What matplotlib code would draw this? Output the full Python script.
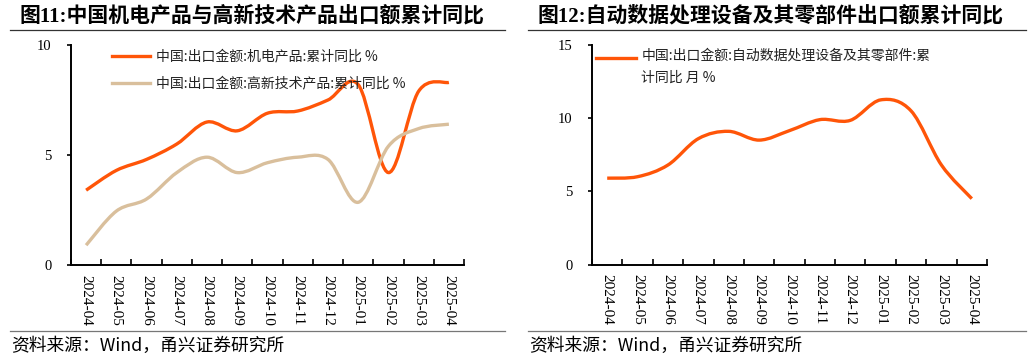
import matplotlib
matplotlib.use("Agg")
import matplotlib.pyplot as plt
import numpy as np
from matplotlib.lines import Line2D
from matplotlib.patches import PathPatch
from matplotlib.path import Path

plt.rcParams["font.family"] = ["Liberation Serif", "Noto Sans CJK SC", "DejaVu Sans"]

MONTHS = ["2024-04", "2024-05", "2024-06", "2024-07", "2024-08", "2024-09", "2024-10",
          "2024-11", "2024-12", "2025-01", "2025-02", "2025-03", "2025-04"]
# 累计同比, %
MECH_ELEC = [3.4, 4.3, 4.8, 5.5, 6.5, 6.1, 6.9, 7.0, 7.5, 8.2, 4.2, 7.9, 8.3]
HIGH_TECH = [0.9, 2.45, 3.0, 4.2, 4.9, 4.2, 4.65, 4.9, 4.8, 2.85, 5.4, 6.2, 6.4]
ADP_EQUIP = [5.9, 6.0, 6.8, 8.6, 9.1, 8.5, 9.15, 9.9, 9.85, 11.25, 10.5, 6.8, 4.5]

LEFT_YTICKS = [0, 5, 10]
RIGHT_YTICKS = [0, 5, 10, 15]

TITLE_L = "图11:中国机电产品与高新技术产品出口额累计同比"
TITLE_R = "图12:自动数据处理设备及其零部件出口额累计同比"
LAB_MECH = "中国:出口金额:机电产品:累计同比 %"
LAB_HIGH = "中国:出口金额:高新技术产品:累计同比 %"
LAB_ADP = "中国:出口金额:自动数据处理设备及其零部件:累\n计同比 月 %"
SOURCE = "资料来源：Wind，甬兴证券研究所"

ORANGE = "#FF5508"
TAN = "#D9BF9C"
CJK = ["Noto Sans CJK SC", "DejaVu Sans"]
W, H = 1032, 360


def smooth_path(y):
    # Excel-style smoothed line: Catmull-Rom segments as cubic Beziers
    pts = np.column_stack([np.arange(len(y), dtype=float), np.asarray(y, float)])
    n = len(pts)
    verts, codes = [pts[0]], [Path.MOVETO]
    for i in range(n - 1):
        p0, p1 = pts[max(i - 1, 0)], pts[i]
        p2, p3 = pts[i + 1], pts[min(i + 2, n - 1)]
        verts += [p1 + (p2 - p0) / 6, p2 - (p3 - p1) / 6, p2]
        codes += [Path.CURVE4] * 3
    return Path(verts, codes)


def draw_series(ax, y, color):
    ax.add_patch(PathPatch(smooth_path(y), fill=False, edgecolor=color, lw=2.4,
                           capstyle="butt", joinstyle="round"))


def style_axes(ax, yticks):
    n = len(MONTHS)
    ax.set_xlim(-0.5, n - 0.5)
    ax.set_ylim(yticks[0], yticks[-1])
    for s in ("top", "right"):
        ax.spines[s].set_visible(False)
    for s in ("left", "bottom"):
        ax.spines[s].set_linewidth(1.4)
    ax.set_xticks(np.arange(n + 1) - 0.5)
    ax.set_xticklabels([])
    ax.tick_params(axis="x", which="major", direction="in", length=4, width=1.2)
    ax.set_xticks(np.arange(n), minor=True)
    ax.set_xticklabels(MONTHS, minor=True, rotation=-90, fontsize=11)
    ax.tick_params(axis="x", which="minor", length=0, pad=7)
    ax.set_yticks(yticks)
    ax.set_yticklabels([str(v) for v in yticks], fontsize=10.5)
    ax.tick_params(axis="y", direction="out", length=3, width=1.2, pad=11)


def legend_row(ax, x0, x1, y, color, text, dx=0.017):
    ax.add_line(Line2D([x0, x1], [y, y], transform=ax.transAxes, color=color, lw=2.4,
                       clip_on=False))
    ax.text(x1 + dx, y, text, transform=ax.transAxes, fontsize=10, va="center",
            ha="left", family=CJK, color="#222222")


def frame(fig, x0, x1, title):
    fig.text(x0 / W + 0.009, 1 - 16 / H, title, fontsize=15, fontweight="bold",
             va="center", ha="left")
    fig.add_artist(Line2D([x0 / W, x1 / W], [1 - 29.5 / H] * 2, color="#333333", lw=0.9))
    fig.add_artist(Line2D([x0 / W, x1 / W], [1 - 331 / H] * 2, color="#777777", lw=0.9))
    fig.text(x0 / W + 0.001, 1 - 346 / H, SOURCE, fontsize=12.8, style="italic",
             va="center", ha="left", family=CJK)


fig = plt.figure(figsize=(W / 100, H / 100), dpi=100)

ax1 = fig.add_axes([71 / W, 1 - 265 / H, 393 / W, 220 / H])
style_axes(ax1, LEFT_YTICKS)
draw_series(ax1, MECH_ELEC, ORANGE)
draw_series(ax1, HIGH_TECH, TAN)
legend_row(ax1, 0.104, 0.200, (265 - 56) / 220, ORANGE, LAB_MECH)
legend_row(ax1, 0.104, 0.200, (265 - 83) / 220, TAN, LAB_HIGH)

ax2 = fig.add_axes([592 / W, 1 - 264.5 / H, 395 / W, 219.5 / H])
style_axes(ax2, RIGHT_YTICKS)
draw_series(ax2, ADP_EQUIP, ORANGE)
ax2.add_line(Line2D([0.011, 0.112], [(264.5 - 58) / 219.5] * 2, transform=ax2.transAxes,
                    color=ORANGE, lw=2.4, clip_on=False))
ax2.text(0.125, (264.5 - 49) / 219.5, LAB_ADP, transform=ax2.transAxes, fontsize=10,
         va="top", ha="left", linespacing=1.7, family=CJK, color="#222222")

frame(fig, 10, 505, TITLE_L)
frame(fig, 528, 1026, TITLE_R)

fig.savefig("out.png", dpi=100)
